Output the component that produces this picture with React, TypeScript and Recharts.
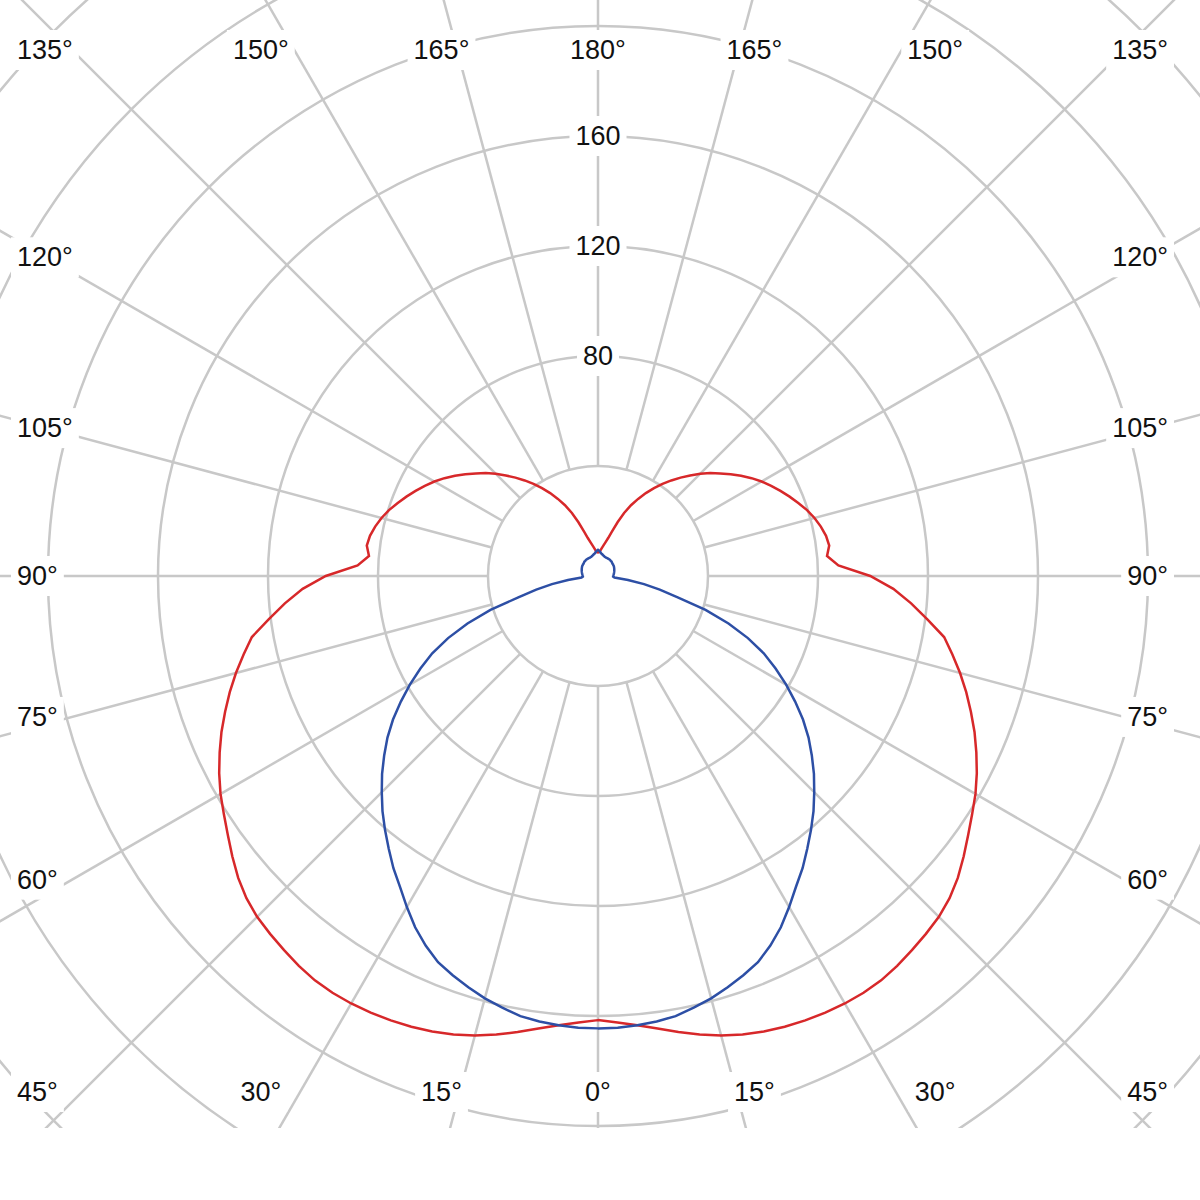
import React from 'react';
import { PolarAngleAxis, PolarGrid, PolarRadiusAxis, Radar, RadarChart } from 'recharts';

// gamma angles (deg from nadir) for one half of each plane, 2.5 deg steps
const GAMMA = Array.from({ length: 73 }, (_, i) => i * 2.5);

// red plane (C90 - C270), cd/klm
const RED_PLANE = [
  161.5, 162.5, 164, 166, 168.4, 170.8, 173, 174.8, 176.3, 177.4,
  178.3, 179, 179.5, 179.7, 179.5, 178.7, 177.6, 176.5, 175.3, 173.4,
  170.8, 167.6, 164.3, 161.3, 158.5, 155.3, 151.8, 148.2, 144.3, 140.4,
  136.3, 132, 127.8, 120.8, 114.3, 107.5, 99, 87.5, 83.6, 84.8,
  84.2, 83, 81.5, 79.7, 77.5, 75.4, 73.2, 71, 68.7, 66.2,
  63.5, 60.8, 58, 55.4, 52.6, 49.6, 46.7, 43.8, 40.9, 37.9,
  34.8, 31.6, 28.4, 24.8, 20.8, 17, 14.3, 12.5, 11.2, 10.1,
  9.2, 8.7, 8.6,
];

// blue plane (C0 - C180), cd/klm
const BLUE_PLANE = [
  164.5, 164.4, 164, 163.4, 162.5, 160.8, 159, 156.8, 154.5, 152,
  148.3, 144, 139, 134, 129.7, 125, 120.5, 116, 111.2, 106.5,
  101.5, 96.5, 91, 85, 79, 72.8, 66.5, 59, 50.5, 41,
  30, 23, 17, 11, 6, 5.5, 5.5, 5.6, 5.7, 5.8,
  5.9, 6, 6.1, 6.2, 6.3, 6.4, 6.5, 6.6, 6.7, 6.8,
  6.8, 6.9, 6.9, 7, 7.1, 7.2, 7.2, 7.3, 7.3, 7.3,
  7.3, 7.3, 7.3, 7.3, 7.4, 7.5, 7.7, 7.9, 8.1, 8.4,
  8.8, 9.2, 9.5,
];

const RING_LABELS = [80, 120, 160];
const SPOKE_STEP = 15;
const MAX_VALUE = 280;

const WIDTH = 1200;
const HEIGHT = 1128;
const CX = 598;
const CY = 576;
const OUTER = 770;
const INNER = (OUTER * 40) / MAX_VALUE;

const GRID = '#c8c8c8';
const FONT = '"Liberation Sans", Arial, sans-serif';
const FONT_SIZE = 27;

// full turn: one half 0..180, other half mirrored
const HALF = GAMMA.length - 1;
const curveData = Array.from({ length: HALF * 2 }, (_, i) => {
  const k = i <= HALF ? i : HALF * 2 - i;
  return { theta: GAMMA[1] * i, red: RED_PLANE[k], blue: BLUE_PLANE[k] };
});

const spokeData = Array.from({ length: 360 / SPOKE_STEP }, (_, i) => ({ theta: i * SPOKE_STEP, v: 0 }));

const textWidth = (s: string) =>
  s.split('').reduce((w, c) => w + (c === '°' ? 0.4 : 0.556), 0) * FONT_SIZE;

const placeAngleLabel = (theta: number) => {
  const rad = (theta * Math.PI) / 180;
  const sx = Math.sin(rad);
  const sy = Math.cos(rad);
  if (Math.abs(sy) >= Math.abs(sx) - 1e-9) {
    const y = sy > 0 ? 1092 : 50;
    const x = CX + (sx / Math.abs(sy)) * 584;
    if (x < 60) return { x: 17, y, anchor: 'start' };
    if (x > 1140) return { x: 1168, y, anchor: 'end' };
    return { x, y, anchor: 'middle' };
  }
  const y = CY + (sy / Math.abs(sx)) * (sy < 0 ? 552 : 526);
  return sx < 0 ? { x: 17, y, anchor: 'start' } : { x: 1168, y, anchor: 'end' };
};

const LabelBox = ({ x, y, anchor, text }: { x: number; y: number; anchor: string; text: string }) => {
  const w = textWidth(text);
  const left = anchor === 'start' ? x : anchor === 'end' ? x - w : x - w / 2;
  return (
    <g>
      <rect x={left - 6} y={y - 20} width={w + 12} height={40} fill="#fff" />
      <text
        x={x}
        y={y}
        textAnchor={anchor as any}
        dominantBaseline="central"
        fontFamily={FONT}
        fontSize={FONT_SIZE}
        fill="#111"
      >
        {text}
      </text>
    </g>
  );
};

const renderAngleTick = (props: any) => {
  const theta = Number(props.payload?.value);
  if (theta % SPOKE_STEP !== 0) return <g />;
  const gamma = theta <= 180 ? theta : 360 - theta;
  const p = placeAngleLabel(theta);
  return <LabelBox x={p.x} y={p.y} anchor={p.anchor} text={`${gamma}°`} />;
};

const renderRadiusTick = (props: any) => {
  const value = Number(props.payload?.value);
  if (!RING_LABELS.includes(value)) return <g />;
  return <LabelBox x={props.x} y={props.y} anchor="middle" text={String(value)} />;
};

const NO_MARGIN = { top: 0, right: 0, bottom: 0, left: 0 };

export default function App() {
  return (
    <div style={{ position: 'absolute', left: 0, top: 0, width: WIDTH, height: HEIGHT, background: '#fff' }}>
      <div style={{ position: 'absolute', left: 0, top: 0 }}>
        <RadarChart
          width={WIDTH}
          height={HEIGHT}
          data={spokeData}
          cx={CX}
          cy={CY}
          innerRadius={INNER}
          outerRadius={900}
          startAngle={270}
          endAngle={-90}
          margin={NO_MARGIN}
        >
          <PolarGrid gridType="circle" polarRadius={[]} stroke={GRID} strokeWidth={2.5} />
          <PolarAngleAxis dataKey="theta" tick={false} axisLine={false} tickLine={false} />
          <PolarRadiusAxis domain={[0, 1]} tick={false} axisLine={false} />
          <Radar dataKey="v" stroke="none" fill="none" isAnimationActive={false} />
        </RadarChart>
      </div>
      <div style={{ position: 'absolute', left: 0, top: 0 }}>
        <RadarChart
          width={WIDTH}
          height={HEIGHT}
          data={curveData}
          cx={CX}
          cy={CY}
          innerRadius={0}
          outerRadius={OUTER}
          startAngle={270}
          endAngle={-90}
          margin={NO_MARGIN}
        >
          <PolarGrid gridType="circle" radialLines={false} stroke={GRID} strokeWidth={2.5} />
          <Radar dataKey="red" stroke="#d7282a" strokeWidth={2.5} fill="none" dot={false} isAnimationActive={false} />
          <Radar dataKey="blue" stroke="#2d4fa5" strokeWidth={2.5} fill="none" dot={false} isAnimationActive={false} />
          <PolarAngleAxis dataKey="theta" axisLine={false} tickLine={false} tick={renderAngleTick} />
          <PolarRadiusAxis
            angle={90}
            domain={[0, MAX_VALUE]}
            tickCount={8}
            axisLine={false}
            tickLine={false}
            tick={renderRadiusTick}
          />
        </RadarChart>
      </div>
    </div>
  );
}
